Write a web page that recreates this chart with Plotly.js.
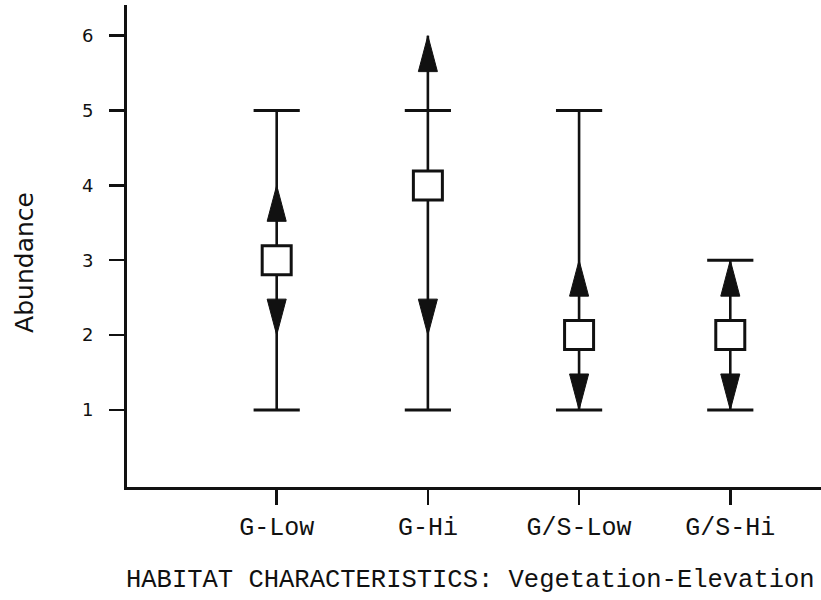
<!DOCTYPE html>
<html>
<head>
<meta charset="utf-8">
<script src="https://cdn.plot.ly/plotly-3.0.1.min.js"></script>
<style>html,body{margin:0;padding:0;background:#fff;}#chart{width:821px;height:600px;}</style>
</head>
<body>
<div id="chart"></div>
<script>
// ---- data ----
const categories = ['G-Low', 'G-Hi', 'G/S-Low', 'G/S-Hi'];
const minVals = [1, 1, 1, 1];
const maxVals = [5, 5, 5, 3];
const medians = [3, 4, 2, 2];
const upperArrow = [4, 6, 3, 3];
const lowerArrow = [2, 2, 1, 1];
const yTickVals = [1, 2, 3, 4, 5, 6];

// ---- style constants ----
const arrowHalfW = 0.063;   // in x units
const arrowH = 0.48;        // in y units
const ink = '#111';

const xs = categories.map((c, i) => i);

// vertical whisker lines
const lineX = [], lineY = [];
xs.forEach((x, i) => {
  lineX.push(x, x, null);
  lineY.push(Math.min(minVals[i], lowerArrow[i]), Math.max(maxVals[i], upperArrow[i]), null);
});

// triangles
const triX = [], triY = [];
xs.forEach((x, i) => {
  const u = upperArrow[i];
  triX.push(x - arrowHalfW, x + arrowHalfW, x, x - arrowHalfW, null);
  triY.push(u - arrowH, u - arrowH, u, u - arrowH, null);
  const l = lowerArrow[i];
  triX.push(x - arrowHalfW, x + arrowHalfW, x, x - arrowHalfW, null);
  triY.push(l + arrowH, l + arrowH, l, l + arrowH, null);
});

const traces = [
  {x: lineX, y: lineY, mode: 'lines', line: {color: ink, width: 2.6}, hoverinfo: 'skip', showlegend: false},
  {x: triX, y: triY, mode: 'lines', fill: 'toself', fillcolor: ink, line: {color: ink, width: 1}, hoverinfo: 'skip', showlegend: false},
  {x: xs.concat(xs), y: minVals.concat(maxVals), mode: 'markers',
   marker: {symbol: 'line-ew', size: 33, line: {color: ink, width: 3}}, hoverinfo: 'skip', showlegend: false},
  {x: xs, y: medians, mode: 'markers',
   marker: {symbol: 'square', size: 29, color: '#fff', line: {color: ink, width: 3}}, showlegend: false}
];

const layout = {
  width: 821, height: 600,
  margin: {l: 127, r: 0, t: 5, b: 113},
  paper_bgcolor: '#fff', plot_bgcolor: '#fff',
  showlegend: false,
  xaxis: {
    range: [-0.99, 3.6], showgrid: false, zeroline: false,
    showline: true, linecolor: ink, linewidth: 3,
    ticks: 'outside', ticklen: 15, tickwidth: 2.5, tickcolor: ink,
    tickvals: xs, ticktext: categories,
    tickfont: {family: 'Liberation Mono, monospace', size: 25, color: ink}
  },
  yaxis: {
    range: [-0.03, 6.41], showgrid: false, zeroline: false,
    showline: true, linecolor: ink, linewidth: 3,
    ticks: 'outside', ticklen: 15, tickwidth: 2.5, tickcolor: ink,
    tickvals: yTickVals, ticktext: yTickVals.map(String),
    ticklabelstandoff: 12,
    tickfont: {family: 'DejaVu Sans, sans-serif', size: 18, color: ink}
  },
  annotations: [
    {text: 'Abundance', xref: 'paper', yref: 'paper', x: -0.147, y: 0.467,
     textangle: -90, showarrow: false, xanchor: 'center', yanchor: 'middle',
     font: {family: 'DejaVu Sans, sans-serif', size: 25, color: ink}},
    {text: 'HABITAT CHARACTERISTICS: Vegetation-Elevation', xref: 'paper', yref: 'paper',
     x: 0.495, y: -0.193, showarrow: false, xanchor: 'center', yanchor: 'middle',
     font: {family: 'Liberation Mono, monospace', size: 25.5, color: ink}}
  ]
};

Plotly.newPlot('chart', traces, layout, {displayModeBar: false, staticPlot: true});
</script>
</body>
</html>
